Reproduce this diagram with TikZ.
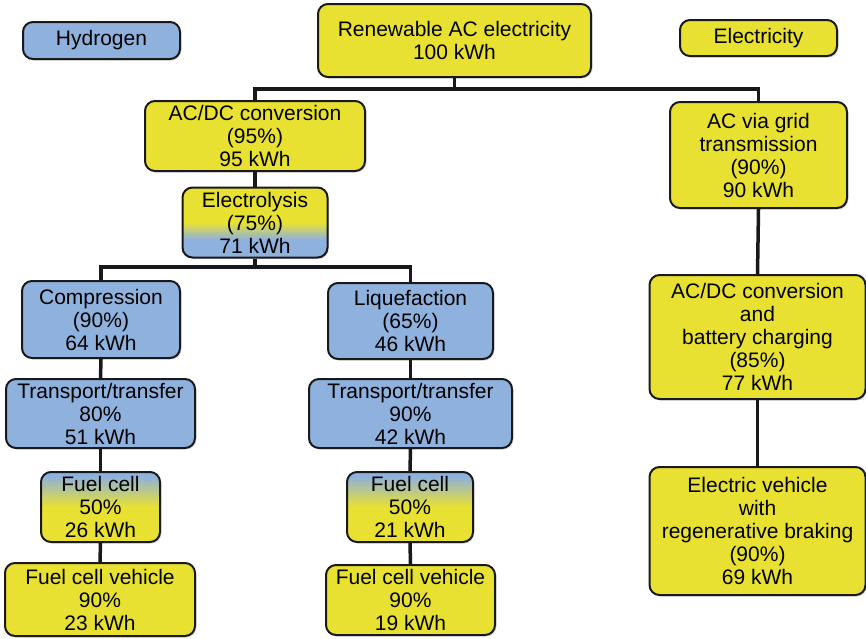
\documentclass[tikz,border=0pt]{standalone}
\usepackage{fontspec}
\setmainfont{Liberation Sans}
\usetikzlibrary{shadows}
\definecolor{ylw}{RGB}{233,225,50}
\definecolor{blu}{RGB}{143,177,221}
\definecolor{edge}{RGB}{25,25,25}
\pgfdeclareverticalshading{elecshade}{100bp}{color(0bp)=(blu); color(38bp)=(blu); color(50bp)=(ylw); color(100bp)=(ylw)}
\pgfdeclareverticalshading{fcshade}{100bp}{color(0bp)=(ylw); color(50bp)=(ylw); color(72bp)=(blu); color(100bp)=(blu)}
\tikzset{
  box/.style={draw=edge, line width=2pt, rounded corners=10pt, align=center,
    inner sep=0pt, font=\fontsize{21}{23}\selectfont,
    drop shadow={opacity=0.25, shadow xshift=1.5pt, shadow yshift=-1.5pt}},
  ybox/.style={box, fill=ylw},
  bbox/.style={box, fill=blu},
  ebox/.style={box, shading=elecshade},
  fbox/.style={box, shading=fcshade},
  wire/.style={line width=3.5pt, draw=edge}
}
\begin{document}
\begin{tikzpicture}[x=1pt,y=-1pt]
\useasboundingbox (0,0) rectangle (866,638);
% legend
\node[bbox, minimum width=157pt, minimum height=37pt] (hyd) at (101.5,40.5) {Hydrogen};
\node[ybox, minimum width=157pt, minimum height=36pt] (elc) at (758.5,38) {Electricity};
% top
\node[ybox, minimum width=273pt, minimum height=73pt] (ren) at (454.5,40.5) {Renewable AC electricity\\100 kWh};
% hydrogen branch
\node[ybox, minimum width=220pt, minimum height=70pt] (acdc) at (255,136) {AC/DC conversion\\(95\%)\\95 kWh};
\node[ebox, minimum width=145pt, minimum height=70pt] (elec) at (255,222.5) {Electrolysis\\(75\%)\\71 kWh};
\node[bbox, minimum width=158pt, minimum height=77pt] (comp) at (101,319.5) {Compression\\(90\%)\\64 kWh};
\node[bbox, minimum width=165pt, minimum height=76pt] (liq) at (410.5,321) {Liquefaction\\(65\%)\\46 kWh};
\node[bbox, minimum width=189pt, minimum height=69pt] (tr1) at (100.5,413.5) {Transport/transfer\\80\%\\51 kWh};
\node[bbox, minimum width=203pt, minimum height=69pt] (tr2) at (410.5,413.5) {Transport/transfer\\90\%\\42 kWh};
\node[fbox, minimum width=119pt, minimum height=70pt] (fc1) at (100.5,507) {Fuel cell\\50\%\\26 kWh};
\node[fbox, minimum width=126pt, minimum height=70pt] (fc2) at (410,507) {Fuel cell\\50\%\\21 kWh};
\node[ybox, minimum width=190pt, minimum height=73pt] (fcv1) at (100,599.5) {Fuel cell vehicle\\90\%\\23 kWh};
\node[ybox, minimum width=169pt, minimum height=70pt] (fcv2) at (410.5,600) {Fuel cell vehicle\\90\%\\19 kWh};
% electricity branch
\node[ybox, minimum width=177pt, minimum height=106pt] (grid) at (758.5,155) {AC via grid\\transmission\\(90\%)\\90 kWh};
\node[ybox, minimum width=216pt, minimum height=124pt] (bat) at (757.5,337) {AC/DC conversion\\and\\battery charging\\(85\%)\\77 kWh};
\node[ybox, minimum width=216pt, minimum height=128pt] (ev) at (757.5,531) {Electric vehicle\\with\\regenerative braking\\(90\%)\\69 kWh};
% junctions
\coordinate (j1) at (454.5,89);
\coordinate (j2) at (255,267);
% connectors
\draw[wire] (ren.south) -- (j1);
\draw[wire] (acdc.north) |- (j1) -| (grid.north);
\draw[wire] (acdc.south) -- (elec.north);
\draw[wire] (elec.south) -- (j2);
\draw[wire] (comp.north) |- (j2) -| (liq.north);
\draw[wire] (comp.south) -- (tr1.north);
\draw[wire] (tr1.south) -- (fc1.north);
\draw[wire] (fc1.south) -- (fcv1.north);
\draw[wire] (liq.south) -- (tr2.north);
\draw[wire] (tr2.south) -- (fc2.north);
\draw[wire] (fc2.south) -- (fcv2.north);
\draw[wire] (grid.south) -- (bat.north);
\draw[wire] (bat.south) -- (ev.north);
\end{tikzpicture}
\end{document}
